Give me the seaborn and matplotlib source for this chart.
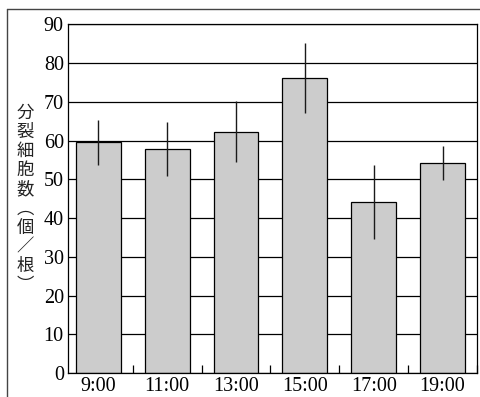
import matplotlib
matplotlib.use("Agg")
import matplotlib.pyplot as plt
import seaborn as sns
import pandas as pd
import numpy as np
from matplotlib.lines import Line2D

# ---- data ----
times = ["9:00", "11:00", "13:00", "15:00", "17:00", "19:00"]
counts = [59.5, 57.8, 62.3, 76.1, 44.1, 54.2]
errors = [5.8, 7.0, 7.8, 9.1, 9.6, 4.3]
ylabel_chars = ["分", "裂", "細", "胞", "数", "︵", "個", "／", "根", "︶"]
yticks = [0, 10, 20, 30, 40, 50, 60, 70, 80, 90]

df = pd.DataFrame({"time": times, "count": counts})

sns.set_theme(style="white")
plt.rcParams["font.family"] = ["Liberation Serif", "DejaVu Serif"]

fig = plt.figure(figsize=(4.81, 3.97), dpi=100)
ax = fig.add_axes([68 / 481, (397 - 373) / 397, (477 - 68) / 481, (373 - 24.3) / 397])

ax.set_axisbelow(True)
for v in yticks:
    ax.axhline(v, color="black", lw=0.9, zorder=0)

sns.barplot(data=df, x="time", y="count", order=times, color="#cccccc",
            edgecolor="black", linewidth=0.9, width=0.65, errorbar=None,
            saturation=1, ax=ax, zorder=2)
ax.errorbar(np.arange(len(times)), counts, yerr=errors, fmt="none",
            ecolor="#1a1a1a", elinewidth=1.0, capsize=0, zorder=3)

ax.set_xlim(-0.44, 5.49)
ax.set_ylim(0, 90)
ax.set_yticks(yticks)
ax.set_yticklabels([str(v) for v in yticks])
ax.set_xlabel("")
ax.set_ylabel("")

ax.tick_params(axis="y", length=0, pad=3, labelsize=14.5, colors="black")
ax.tick_params(axis="x", which="major", length=0, pad=3, labelsize=14.5, colors="black")
ax.set_xticks(np.arange(len(times)) + 0.5, minor=True)
ax.tick_params(axis="x", which="minor", direction="in", length=6, width=0.9,
               color="black", bottom=True)

for s in ax.spines.values():
    s.set_visible(True)
    s.set_color("black")
    s.set_linewidth(0.9)

# vertical Japanese y-axis label
fig.text(25 / 481, 1 - 199 / 397, "\n".join(ylabel_chars), ha="center", va="center",
         fontsize=12.5, family=["Noto Sans CJK JP", "DejaVu Sans"], linespacing=1.08,
         color="#222222")

# outer frame (top and left edges)
fig.add_artist(Line2D([7 / 481, 1.0], [1 - 9 / 397, 1 - 9 / 397], transform=fig.transFigure,
                      color="#444444", lw=1.0))
fig.add_artist(Line2D([7 / 481, 7 / 481], [0.0, 1 - 9 / 397], transform=fig.transFigure,
                      color="#444444", lw=1.0))

fig.savefig("out.png", dpi=100)
